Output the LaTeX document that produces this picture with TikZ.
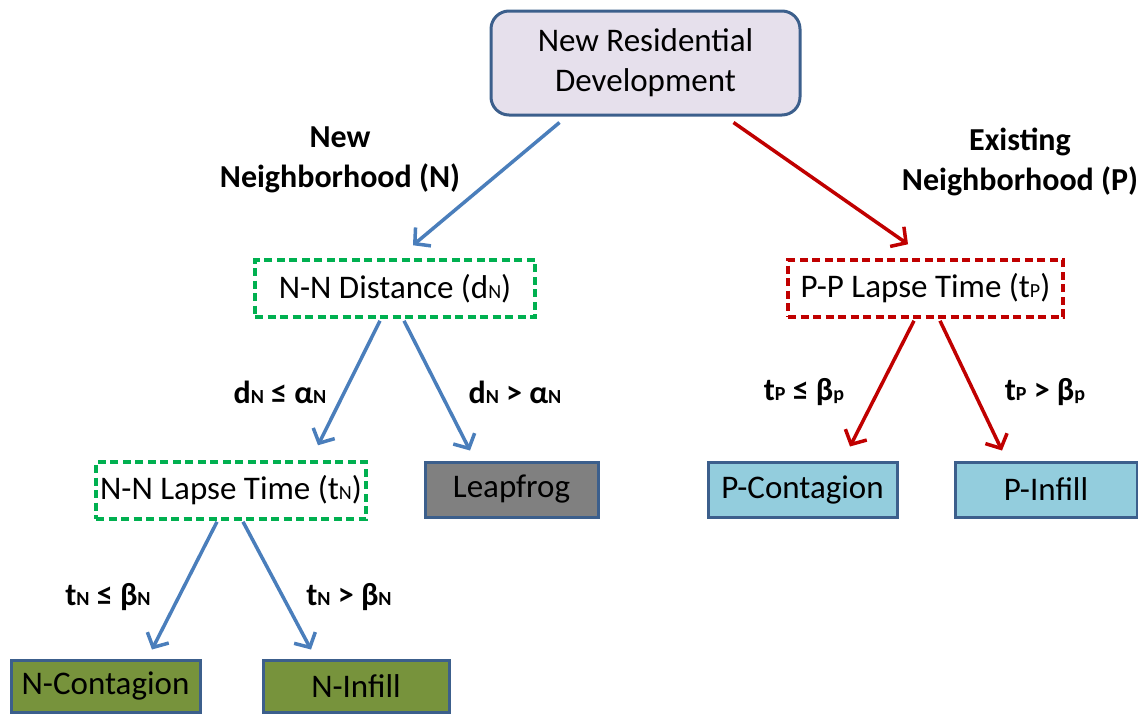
\documentclass[tikz,border=0pt]{standalone}
\usepackage{fontspec}
\setmainfont{Carlito}
\usetikzlibrary{arrows.meta,calc}
\definecolor{topfill}{HTML}{E6E0EC}
\definecolor{boxedge}{HTML}{3C5F8C}
\definecolor{arrblue}{HTML}{4A7EBB}
\definecolor{arrred}{HTML}{C00000}
\definecolor{dgreen}{HTML}{00B050}
\definecolor{olive}{HTML}{77933C}
\definecolor{lblue}{HTML}{93CDDD}
\definecolor{grayfill}{HTML}{808080}
\newcommand{\sm}[1]{{\fontsize{20}{20}\selectfont #1}}
\begin{document}
\begin{tikzpicture}[x=1pt,y=-1pt,
  every node/.style={font=\fontsize{33}{40}\selectfont, inner sep=0pt, align=center},
  solidbox/.style={draw=boxedge, line width=3pt, minimum width=#1, minimum height=55pt},
  dashbox/.style={line width=3.5pt, dash pattern=on 8pt off 4.5pt, minimum width=#1, minimum height=57pt},
  bluearr/.style={draw=arrblue, line width=3.5pt, -{Straight Barb[length=11pt,width=24pt,line width=3.5pt]}},
  redarr/.style={draw=arrred, line width=3.5pt, -{Straight Barb[length=11pt,width=24pt,line width=3.5pt]}},
  lbl/.style={font=\fontsize{32}{40}\selectfont\bfseries}
]
\useasboundingbox (0,0) rectangle (1138,713);
\node[draw=boxedge, fill=topfill, line width=3pt, rounded corners=18pt, minimum width=309pt, minimum height=104pt] (top) at (645.5,63) {New Residential\\Development};
\node[dashbox=280pt, draw=dgreen] (nnd) at (395,288.5) {N-N Distance (d\sm{N})};
\node[dashbox=275pt, draw=arrred] (ppl) at (925.5,288.5) {P-P Lapse Time (t\sm{P})};
\node[dashbox=270pt, draw=dgreen] (nnl) at (231,490.5) {N-N Lapse Time (t\sm{N})};
\node[solidbox=173pt, fill=grayfill] (leap) at (511.5,489.5) {Leapfrog};
\node[solidbox=189pt, fill=lblue] (pcon) at (802.5,489.5) {P-Contagion};
\node[solidbox=182pt, fill=lblue] (pinf) at (1046,489.5) {P-Infill};
\node[solidbox=189pt, fill=olive, minimum height=52pt] (ncon) at (105.5,686) {N-Contagion};
\node[solidbox=186pt, fill=olive, minimum height=52pt] (ninf) at (356,686) {N-Infill};

\draw[bluearr] ($(top.south)+(-86,6)$) -- ($(nnd.north)+(18,-13)$);
\draw[redarr] ($(top.south)+(88,6)$) -- ($(ppl.north)+(-17.5,-14)$);
\draw[bluearr] ($(nnd.south)+(-15,2)$) -- ($(nnl.north)+(87,-15)$);
\draw[bluearr] ($(nnd.south)+(9,2)$) -- ($(leap.north)+(-41.5,-10)$);
\draw[redarr] ($(ppl.south)+(-11.5,2)$) -- ($(pcon.north)+(47.5,-14)$);
\draw[redarr] ($(ppl.south)+(14.5,2)$) -- ($(pinf.north)+(-44,-10)$);
\draw[bluearr] ($(nnl.south)+(-14,1)$) -- ($(ncon.north)+(46.5,-9)$);
\draw[bluearr] ($(nnl.south)+(12,1)$) -- ($(ninf.north)+(-45,-9)$);

\node[lbl] (lN) at (340,160) {New\\Neighborhood (N)};
\node[lbl] (lP) at (1020,162) {Existing\\Neighborhood (P)};
\node[lbl] (c1) at (280,392) {d\sm{N} ≤ α\sm{N}};
\node[lbl] (c2) at (515,392) {d\sm{N} > α\sm{N}};
\node[lbl] (c3) at (804,392) {t\sm{P} ≤ β\sm{p}};
\node[lbl] (c4) at (1045,392) {t\sm{P} > β\sm{p}};
\node[lbl] (c5) at (108,597) {t\sm{N} ≤ β\sm{N}};
\node[lbl] (c6) at (349,597) {t\sm{N} > β\sm{N}};
\end{tikzpicture}
\end{document}
